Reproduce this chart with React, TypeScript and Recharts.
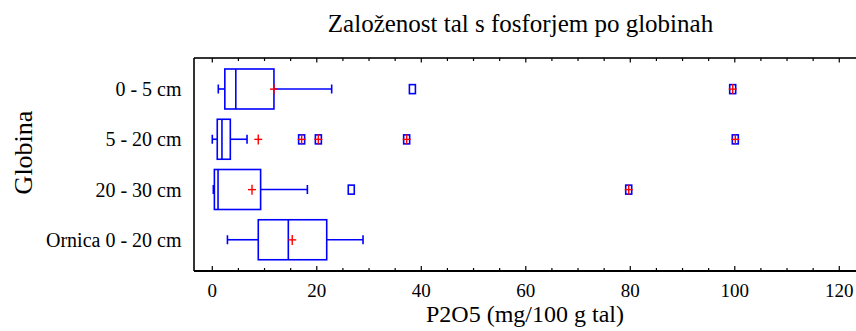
import React from 'react';
import { ComposedChart, Bar, Scatter, XAxis, YAxis, Label } from 'recharts';

const categories = ['0 - 5 cm', '5 - 20 cm', '20 - 30 cm', 'Ornica 0 - 20 cm'];
const whiskerLow = [1.15, 0.0, 0.2, 2.9];
const quartile1 = [2.4, 0.95, 0.4, 8.8];
const medians = [4.5, 1.85, 1.1, 14.55];
const quartile3 = [11.8, 3.45, 9.25, 21.9];
const whiskerHigh = [22.85, 6.65, 18.2, 28.85];
const means = [11.8, 8.8, 7.6, 15.3];
const outsidePoints = [[38.3], [], [26.6], []];
const farOutsidePoints = [[99.6], [17.1, 20.3, 37.2, 100.1], [79.7], []];
const xTicks = [0, 5, 10, 15, 20, 25, 30, 35, 40, 45, 50, 55, 60, 65, 70, 75, 80, 85, 90, 95, 100, 105, 110, 115, 120];

const BLUE = '#0000ff';
const RED = '#ff0000';
const FONT = '"Liberation Serif", "Times New Roman", serif';

const boxData = categories.map((cat, i) => ({
  cat,
  range: [whiskerLow[i], whiskerHigh[i]],
  q1: quartile1[i],
  med: medians[i],
  q3: quartile3[i],
}));
const meanData = categories.map((cat, i) => ({ cat, v: means[i] }));
const outsideData = categories.flatMap((cat, i) => outsidePoints[i].map((v) => ({ cat, v })));
const farData = categories.flatMap((cat, i) => farOutsidePoints[i].map((v) => ({ cat, v })));

// box + whiskers, inner positions taken from the bar's own pixel span
const BoxShape = (props: any) => {
  const { x, y, width, height, payload } = props;
  if (!payload) return null;
  const [lo, hi] = payload.range;
  const px = (v: number) => x + ((v - lo) / (hi - lo)) * width;
  const cy = y + height / 2;
  const cap = 4.5;
  const s = { stroke: BLUE, strokeWidth: 1.6, fill: 'none' };
  return (
    <g>
      <line x1={px(lo)} x2={px(payload.q1)} y1={cy} y2={cy} {...s} />
      <line x1={px(payload.q3)} x2={px(hi)} y1={cy} y2={cy} {...s} />
      <line x1={px(lo)} x2={px(lo)} y1={cy - cap} y2={cy + cap} {...s} />
      <line x1={px(hi)} x2={px(hi)} y1={cy - cap} y2={cy + cap} {...s} />
      <rect x={px(payload.q1)} y={y} width={px(payload.q3) - px(payload.q1)} height={height} {...s} />
      <line x1={px(payload.med)} x2={px(payload.med)} y1={y} y2={y + height} {...s} />
    </g>
  );
};

const Cross = ({ cx, cy }: any) => (
  <g>
    <line x1={cx - 4} x2={cx + 4} y1={cy} y2={cy} stroke={RED} strokeWidth={1.4} />
    <line x1={cx} x2={cx} y1={cy - 5} y2={cy + 5} stroke={RED} strokeWidth={1.4} />
  </g>
);

const Square = ({ cx, cy }: any) => (
  <rect x={cx - 3} y={cy - 4.5} width={6} height={9} fill="none" stroke={BLUE} strokeWidth={1.6} />
);

const SquareCross = (props: any) => (
  <g>
    <Square {...props} />
    <Cross {...props} />
  </g>
);

const BottomTick = (props: any) => {
  const { x, y, payload } = props;
  const major = payload.value % 20 === 0;
  const axisY = y - 13;
  return (
    <g>
      <line x1={x} x2={x} y1={axisY} y2={axisY - (major ? 5 : 3)} stroke="#000" strokeWidth={1.2} />
      {major && (
        <text x={x} y={y} dy="0.71em" textAnchor="middle" fontSize={19} fontFamily={FONT} fill="#000">
          {payload.value}
        </text>
      )}
    </g>
  );
};

const TopTick = (props: any) => {
  const { x, y, payload } = props;
  const major = payload.value % 20 === 0;
  return <line x1={x} x2={x} y1={y} y2={y + (major ? 4.5 : 3)} stroke="#000" strokeWidth={1.2} />;
};

const ChartTitle = () => (
  <text x={520.5} y={32} textAnchor="middle" fontSize={25} fontFamily={FONT} fill="#000">
    Založenost tal s fosforjem po globinah
  </text>
);

const XTitle = () => (
  <text x={525} y={322} textAnchor="middle" fontSize={24} fontFamily={FONT} fill="#000">
    P2O5 (mg/100 g tal)
  </text>
);

const YTitle = () => (
  <text x={32} y={152.5} transform="rotate(-90 32 152.5)" textAnchor="middle" fontSize={26} fontFamily={FONT} fill="#000">
    Globina
  </text>
);

export default function App() {
  return (
    <div style={{ position: 'absolute', left: 0, top: 0, width: 856, height: 331, overflow: 'hidden' }}>
      <ComposedChart
        width={856}
        height={331}
        data={boxData}
        layout="vertical"
        margin={{ top: 57, right: 0, bottom: 0, left: 0 }}
      >
        <XAxis
          xAxisId="bottom"
          type="number"
          orientation="bottom"
          domain={[-3.5, 123.2]}
          allowDataOverflow
          ticks={xTicks}
          interval={0}
          tickSize={0}
          tickMargin={13}
          tickLine={false}
          tick={<BottomTick />}
          axisLine={{ stroke: '#000', strokeWidth: 2 }}
          height={60}
        >
          <Label content={<XTitle />} />
        </XAxis>
        <XAxis
          xAxisId="top"
          type="number"
          orientation="top"
          domain={[-3.5, 123.2]}
          allowDataOverflow
          ticks={xTicks}
          interval={0}
          tickSize={0}
          tickMargin={0}
          tickLine={false}
          tick={<TopTick />}
          axisLine={{ stroke: '#333', strokeWidth: 2 }}
          height={1}
        >
          <Label content={<ChartTitle />} />
        </XAxis>
        <YAxis
          type="category"
          dataKey="cat"
          allowDuplicatedCategory={false}
          width={194}
          padding={{ top: 6, bottom: 6 }}
          tickSize={0}
          tickMargin={12.5}
          tickLine={false}
          axisLine={{ stroke: '#000', strokeWidth: 1.6 }}
          tick={{ fill: '#000', fontSize: 20, fontFamily: FONT }}
        >
          <Label content={<YTitle />} />
        </YAxis>
        <Bar xAxisId="bottom" dataKey="range" barSize={40} shape={<BoxShape />} isAnimationActive={false} />
        <Scatter xAxisId="bottom" data={meanData} dataKey="v" shape={<Cross />} isAnimationActive={false} />
        <Scatter xAxisId="bottom" data={outsideData} dataKey="v" shape={<Square />} isAnimationActive={false} />
        <Scatter xAxisId="bottom" data={farData} dataKey="v" shape={<SquareCross />} isAnimationActive={false} />
      </ComposedChart>
    </div>
  );
}
